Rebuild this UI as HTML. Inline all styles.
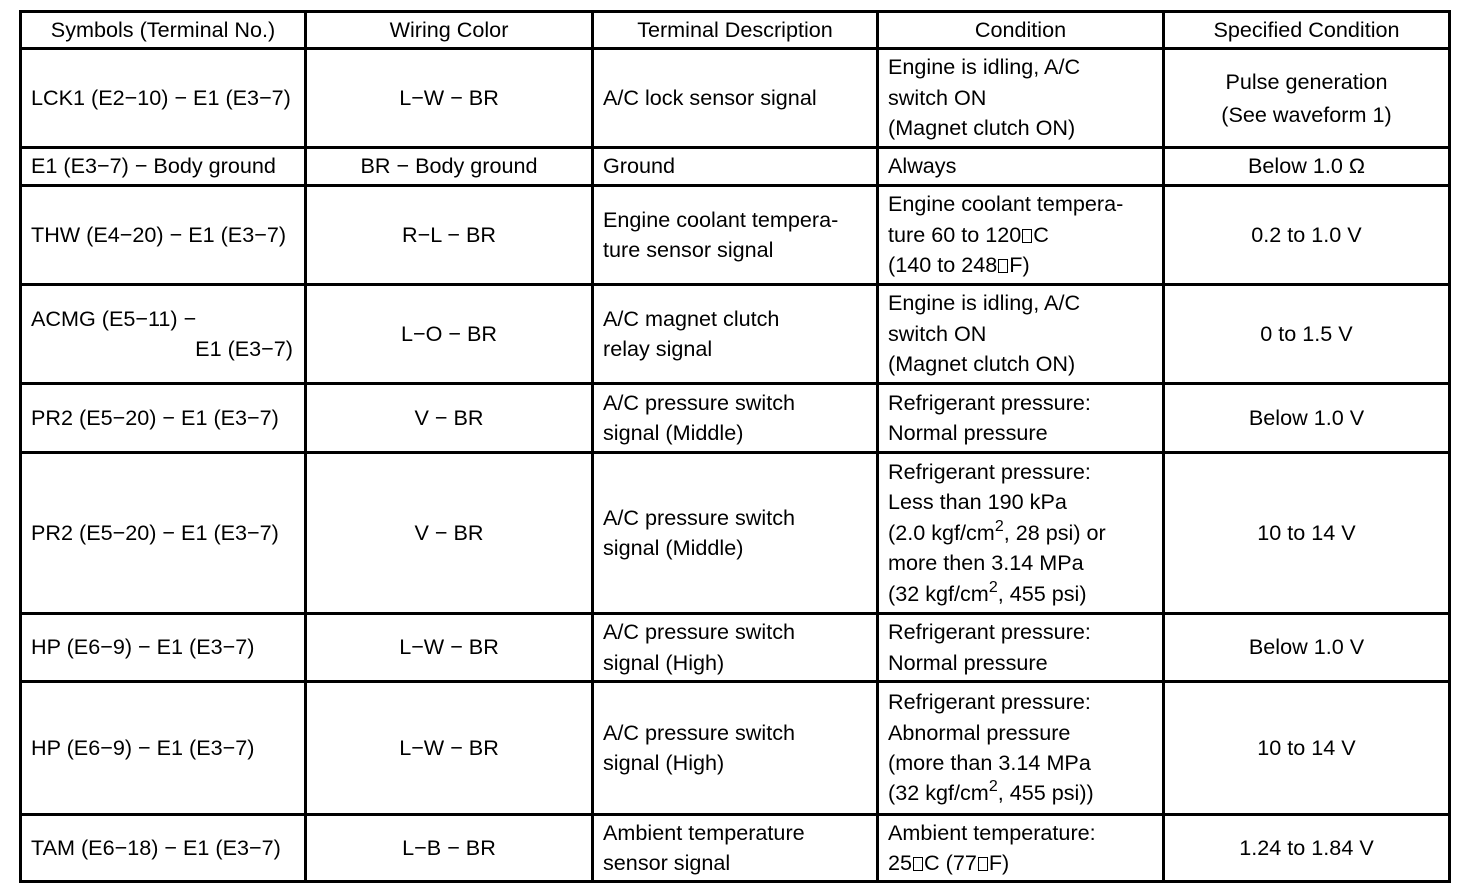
<!DOCTYPE html>
<html><head><meta charset="utf-8">
<style>
html,body{margin:0;padding:0;background:#fff;}
body{width:1472px;height:894px;position:relative;overflow:hidden;font-family:"Liberation Sans",Arial,sans-serif;color:#000;}
.h{position:absolute;left:19px;width:1432px;height:3px;background:#000;}
.v{position:absolute;top:10px;height:873px;width:3px;background:#000;}
.c{position:absolute;display:flex;flex-direction:column;justify-content:center;align-items:flex-start;line-height:30.4px;font-size:21.6px;padding-left:9px;box-sizing:border-box;white-space:nowrap;}
.m{align-items:center;padding-left:0;text-align:center;}
.c div{width:100%;}
.r{text-align:right;padding-right:11px;box-sizing:border-box;}
.dg{display:inline-block;width:10px;height:14px;border:1px solid #000;box-sizing:border-box;vertical-align:-1px;margin:0 1px 0 1px;}
sup{font-size:16px;line-height:0;vertical-align:9px;}
.c1{left:22px;width:282px;}
.c2{left:307px;width:284px;}
.c3{left:594px;width:282px;}
.c4{left:879px;width:283px;}
.c5{left:1165px;width:283px;}
.r0{top:13px;height:34px;}
.r1{top:50px;height:96px;}
.r2{top:149px;height:35px;}
.r3{top:187px;height:96px;}
.r4{top:286px;height:96px;}
.r5{top:385px;height:66px;}
.r6{top:454px;height:158px;}
.r7{top:615px;height:65px;}
.r8{top:683px;height:130px;}
.r9{top:816px;height:64px;}
</style></head><body>
<div class="h" style="top:10px"></div>
<div class="h" style="top:47px"></div>
<div class="h" style="top:146px"></div>
<div class="h" style="top:184px"></div>
<div class="h" style="top:283px"></div>
<div class="h" style="top:382px"></div>
<div class="h" style="top:451px"></div>
<div class="h" style="top:612px"></div>
<div class="h" style="top:680px"></div>
<div class="h" style="top:813px"></div>
<div class="h" style="top:880px"></div>
<div class="v" style="left:19px"></div>
<div class="v" style="left:304px"></div>
<div class="v" style="left:591px"></div>
<div class="v" style="left:876px"></div>
<div class="v" style="left:1162px"></div>
<div class="v" style="left:1448px"></div>

<div class="c m c1 r0">Symbols (Terminal No.)</div>
<div class="c m c2 r0">Wiring Color</div>
<div class="c m c3 r0">Terminal Description</div>
<div class="c m c4 r0">Condition</div>
<div class="c m c5 r0">Specified Condition</div>

<div class="c c1 r1">LCK1 (E2−10) − E1 (E3−7)</div>
<div class="c m c2 r1">L−W − BR</div>
<div class="c c3 r1">A/C lock sensor signal</div>
<div class="c c4 r1"><div>Engine is idling, A/C</div><div>switch ON</div><div>(Magnet clutch ON)</div></div>
<div class="c m c5 r1" style="line-height:33px"><div>Pulse generation</div><div>(See waveform 1)</div></div>

<div class="c c1 r2">E1 (E3−7) − Body ground</div>
<div class="c m c2 r2">BR − Body ground</div>
<div class="c c3 r2">Ground</div>
<div class="c c4 r2">Always</div>
<div class="c m c5 r2">Below 1.0 Ω</div>

<div class="c c1 r3">THW (E4−20) − E1 (E3−7)</div>
<div class="c m c2 r3">R−L − BR</div>
<div class="c c3 r3"><div>Engine coolant tempera-</div><div>ture sensor signal</div></div>
<div class="c c4 r3"><div>Engine coolant tempera-</div><div>ture 60 to 120<span class="dg"></span>C</div><div>(140 to 248<span class="dg"></span>F)</div></div>
<div class="c m c5 r3">0.2 to 1.0 V</div>

<div class="c c1 r4"><div>ACMG (E5−11) −</div><div class="r">E1 (E3−7)</div></div>
<div class="c m c2 r4">L−O − BR</div>
<div class="c c3 r4"><div>A/C magnet clutch</div><div>relay signal</div></div>
<div class="c c4 r4"><div>Engine is idling, A/C</div><div>switch ON</div><div>(Magnet clutch ON)</div></div>
<div class="c m c5 r4">0 to 1.5 V</div>

<div class="c c1 r5">PR2 (E5−20) − E1 (E3−7)</div>
<div class="c m c2 r5">V − BR</div>
<div class="c c3 r5"><div>A/C pressure switch</div><div>signal (Middle)</div></div>
<div class="c c4 r5"><div>Refrigerant pressure:</div><div>Normal pressure</div></div>
<div class="c m c5 r5">Below 1.0 V</div>

<div class="c c1 r6">PR2 (E5−20) − E1 (E3−7)</div>
<div class="c m c2 r6">V − BR</div>
<div class="c c3 r6"><div>A/C pressure switch</div><div>signal (Middle)</div></div>
<div class="c c4 r6"><div>Refrigerant pressure:</div><div>Less than 190 kPa</div><div>(2.0 kgf/cm<sup>2</sup>, 28 psi) or</div><div>more then 3.14 MPa</div><div>(32 kgf/cm<sup>2</sup>, 455 psi)</div></div>
<div class="c m c5 r6">10 to 14 V</div>

<div class="c c1 r7">HP (E6−9) − E1 (E3−7)</div>
<div class="c m c2 r7">L−W − BR</div>
<div class="c c3 r7"><div>A/C pressure switch</div><div>signal (High)</div></div>
<div class="c c4 r7"><div>Refrigerant pressure:</div><div>Normal pressure</div></div>
<div class="c m c5 r7">Below 1.0 V</div>

<div class="c c1 r8">HP (E6−9) − E1 (E3−7)</div>
<div class="c m c2 r8">L−W − BR</div>
<div class="c c3 r8"><div>A/C pressure switch</div><div>signal (High)</div></div>
<div class="c c4 r8"><div>Refrigerant pressure:</div><div>Abnormal pressure</div><div>(more than 3.14 MPa</div><div>(32 kgf/cm<sup>2</sup>, 455 psi))</div></div>
<div class="c m c5 r8">10 to 14 V</div>

<div class="c c1 r9">TAM (E6−18) − E1 (E3−7)</div>
<div class="c m c2 r9">L−B − BR</div>
<div class="c c3 r9"><div>Ambient temperature</div><div>sensor signal</div></div>
<div class="c c4 r9"><div>Ambient temperature:</div><div>25<span class="dg"></span>C (77<span class="dg"></span>F)</div></div>
<div class="c m c5 r9">1.24 to 1.84 V</div>
</body></html>
